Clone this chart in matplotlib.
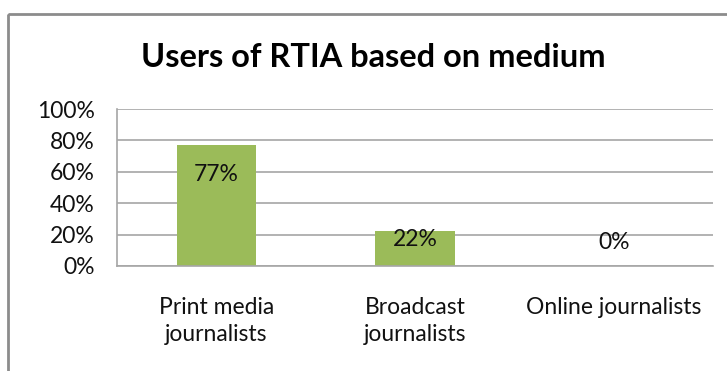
import matplotlib.pyplot as plt
from matplotlib.patches import Rectangle

# Share of RTIA users by medium
categories = ["Print media\njournalists", "Broadcast\njournalists", "Online journalists"]
shares = [77, 22, 0]
value_labels = ["77%", "22%", "0%"]
y_ticks = [0, 20, 40, 60, 80, 100]

bar_color = "#9BBB59"
grid_color = "#A6A6A6"
# vertical offset of each value label from its bar top, in points
label_offsets = [-21, -6, 17]

plt.rcParams['font.family'] = ['Lato', 'DejaVu Sans']

fig = plt.figure(figsize=(7.27, 3.71), dpi=100)
W, H = 727, 371

# outer chart frame
fig.patches.append(Rectangle((8 / W, 1 - 14 / H), 2, -2, transform=fig.transFigure,
                             fill=False, edgecolor="#8C8C8C", linewidth=2))

ax = fig.add_axes([117 / W, 105 / H, (713 - 117) / W, (266 - 109) / H])

x = range(len(categories))
ax.bar(x, shares, width=0.4, color=bar_color, zorder=2)

for i, (v, lab) in enumerate(zip(shares, value_labels)):
    ax.annotate(lab, (i, v), xytext=(0, label_offsets[i]), textcoords="offset points",
                ha="center", va="center", fontsize=16.5, color="#111111", zorder=3)

ax.set_xlim(-0.5, len(categories) - 0.5)
ax.set_ylim(0, 100)
ax.set_yticks(y_ticks)
ax.set_yticklabels([f"{t}%" for t in y_ticks])
ax.set_xticks(list(x))
ax.set_xticklabels(categories, linespacing=1.35)

ax.yaxis.grid(True, color=grid_color, linewidth=1.2, zorder=0)
ax.set_axisbelow(True)
for side in ["top", "right"]:
    ax.spines[side].set_visible(False)
for side in ["left", "bottom"]:
    ax.spines[side].set_color(grid_color)
    ax.spines[side].set_linewidth(1.2)

ax.tick_params(axis="y", length=0, pad=16, labelsize=16.5, labelcolor="#111111")
ax.tick_params(axis="x", length=0, pad=22, labelsize=16.5, labelcolor="#111111")

fig.text(373 / W, 1 - 67 / H, "Users of RTIA based on medium", ha="center", va="baseline",
         fontsize=23.5, fontweight="bold", color="#000000")

fig.savefig("out.png", dpi=100)
